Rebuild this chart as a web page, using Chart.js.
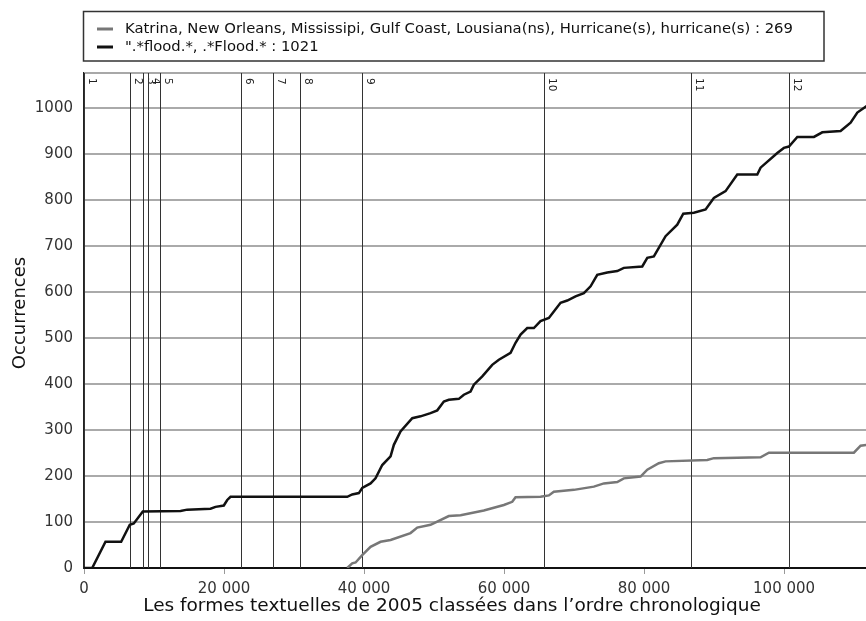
<!DOCTYPE html>
<html>
<head>
<meta charset="utf-8">
<script src="https://cdn.jsdelivr.net/npm/chart.js@4.4.1/dist/chart.umd.min.js"></script>
<style>
  body { margin: 0; background: #fff; }
  #wrap { position: relative; width: 866px; height: 621px; }
</style>
</head>
<body>
<div id="wrap"><canvas id="chart"></canvas></div>
<script>
// Séries (position dans le corpus, occurrences cumulées)
const floodLabel = '".*flood.*, .*Flood.* : 1021';
const floodX = [0, 1170, 3070, 5310, 6540, 7110, 8400, 13790, 14740, 18070, 18790, 19970, 20460, 20930,
  37600, 38310, 39260, 39740, 40930, 41640, 42600, 43790, 44260, 45210, 46890, 48070, 49500, 50460,
  51400, 52110, 53540, 54260, 55210, 55690, 56890, 58310, 59260, 60930, 61640, 62360, 63310, 64260,
  65210, 66400, 68070, 69030, 70210, 71400, 72360, 73310, 74740, 76170, 77110, 79740, 80460, 81400,
  83070, 84740, 85600, 87110, 88790, 89970, 91640, 93310, 96170, 96640, 99030, 99970, 100690, 101890,
  104260, 105460, 108070, 109500, 110460, 111790, 113500];
const floodY = [0, 0, 57, 57, 94, 97, 123, 124, 127, 129, 133, 136, 148, 155,
  155, 160, 163, 174, 184, 195, 224, 243, 268, 297, 326, 330, 337, 343,
  362, 366, 368, 377, 384, 399, 417, 442, 453, 468, 490, 508, 522, 522,
  537, 544, 577, 582, 591, 598, 613, 638, 643, 646, 653, 656, 675, 678,
  722, 747, 771, 773, 780, 805, 820, 856, 856, 871, 903, 914, 917, 938,
  938, 948, 951, 969, 991, 1005, 1021];

const katrinaLabel = 'Katrina, New Orleans, Mississipi, Gulf Coast, Lousiana(ns), Hurricane(s), hurricane(s) : 269';
const katrinaX = [37600, 38310, 38790, 39740, 40930, 42360, 43790, 46640, 47600, 49500, 52110, 53790,
  57110, 59970, 61170, 61640, 65210, 66400, 67110, 69970, 72830, 74260, 76170, 77110, 79500, 80460,
  82110, 83070, 89030, 89970, 96640, 97830, 109970, 110930, 111790, 113500];
const katrinaY = [0, 10, 12, 28, 46, 57, 61, 76, 88, 94, 113, 115,
  125, 137, 144, 154, 155, 158, 166, 170, 177, 184, 187, 195, 199, 214,
  228, 232, 235, 239, 241, 251, 251, 266, 268, 269];

// Frontières des parties (numérotées en haut du graphique)
const partX = [0, 6540, 8400, 9110, 10830, 22400, 26970, 30830, 39740, 65690, 86740, 100690];
const partLabels = ['1', '2', '3', '4', '5', '6', '7', '8', '9', '10', '11', '12'];

const xTicks = [0, 20000, 40000, 60000, 80000, 100000];
const yTicks = [0, 100, 200, 300, 400, 500, 600, 700, 800, 900, 1000];

const xMax = 111700;
const yMax = 1077;

const FONT = '"DejaVu Sans", sans-serif';

function toPoints(xs, ys) {
  return xs.map((x, i) => ({ x: x, y: ys[i] }));
}

function fmt(v) {
  return String(v).replace(/\B(?=(\d{3})+(?!\d))/g, ' ');
}

const decorations = {
  id: 'decorations',
  beforeDatasetsDraw(chart) {
    const ctx = chart.ctx;
    const area = chart.chartArea;
    const xs = chart.scales.x;
    ctx.save();
    // bord supérieur
    ctx.strokeStyle = '#a8a8a8';
    ctx.lineWidth = 2;
    ctx.beginPath();
    ctx.moveTo(area.left, area.top);
    ctx.lineTo(area.right, area.top);
    ctx.stroke();
    // séparateurs verticaux + numéros
    ctx.strokeStyle = '#333';
    ctx.lineWidth = 1;
    ctx.fillStyle = '#222';
    ctx.font = '10.5px ' + FONT;
    partX.forEach((v, i) => {
      const px = Math.round(xs.getPixelForValue(v)) + 0.5;
      ctx.beginPath();
      ctx.moveTo(px, area.top);
      ctx.lineTo(px, area.bottom);
      ctx.stroke();
      ctx.save();
      ctx.translate(px + 2, area.top + 5);
      ctx.rotate(Math.PI / 2);
      ctx.textAlign = 'left';
      ctx.textBaseline = 'bottom';
      ctx.fillText(partLabels[i], 0, 0);
      ctx.restore();
    });
    ctx.restore();
  },
  afterDraw(chart) {
    const ctx = chart.ctx;
    ctx.save();
    // légende encadrée
    ctx.fillStyle = '#fff';
    ctx.fillRect(83.5, 11.5, 740.5, 49.5);
    ctx.strokeStyle = '#333';
    ctx.lineWidth = 1.5;
    ctx.strokeRect(83.5, 11.5, 740.5, 49.5);
    const rows = [
      { label: katrinaLabel, color: '#777', y: 29 },
      { label: floodLabel, color: '#111', y: 47 }
    ];
    ctx.font = '14.8px ' + FONT;
    ctx.textBaseline = 'middle';
    rows.forEach(r => {
      ctx.strokeStyle = r.color;
      ctx.lineWidth = 3;
      ctx.beginPath();
      ctx.moveTo(97, r.y);
      ctx.lineTo(113, r.y);
      ctx.stroke();
      ctx.fillStyle = '#111';
      ctx.fillText(r.label, 125, r.y);
    });
    // titres des axes
    ctx.fillStyle = '#111';
    ctx.font = '18.5px ' + FONT;
    ctx.textAlign = 'center';
    ctx.textBaseline = 'middle';
    ctx.fillText('Les formes textuelles de 2005 classées dans l\u2019ordre chronologique', 452, 606);
    ctx.font = '18px ' + FONT;
    ctx.save();
    ctx.translate(20, 313);
    ctx.rotate(-Math.PI / 2);
    ctx.fillText('Occurrences', 0, 0);
    ctx.restore();
    ctx.restore();
  }
};

new Chart(document.getElementById('chart'), {
  type: 'line',
  data: {
    datasets: [
      {
        label: katrinaLabel,
        data: toPoints(katrinaX, katrinaY),
        borderColor: '#777',
        borderWidth: 2.5,
        pointRadius: 0,
        tension: 0
      },
      {
        label: floodLabel,
        data: toPoints(floodX, floodY),
        borderColor: '#111',
        borderWidth: 2.5,
        pointRadius: 0,
        tension: 0
      }
    ]
  },
  options: {
    responsive: true,
    maintainAspectRatio: false,
    animation: false,
    layout: { padding: { top: 73, left: 0, right: 0, bottom: 0 } },
    plugins: { legend: { display: false }, tooltip: { enabled: false } },
    scales: {
      x: {
        type: 'linear',
        min: 0,
        max: xMax,
        afterBuildTicks: s => { s.ticks = xTicks.map(v => ({ value: v })); },
        afterFit: s => { s.height = 53; s.paddingRight = 0; s.paddingLeft = 0; },
        border: { color: '#111', width: 2 },
        grid: { drawOnChartArea: false, drawTicks: true, tickLength: 6, color: '#999' },
        ticks: {
          autoSkip: false,
          maxRotation: 0,
          padding: 6,
          color: '#333',
          font: { family: FONT, size: 15 },
          callback: v => fmt(v)
        }
      },
      y: {
        min: 0,
        max: yMax,
        afterBuildTicks: s => { s.ticks = yTicks.map(v => ({ value: v })); },
        afterFit: s => { s.width = 84; },
        border: { color: '#222', width: 1.5 },
        grid: { color: '#aaa', lineWidth: 2, drawTicks: false },
        ticks: {
          padding: 11,
          color: '#333',
          font: { family: FONT, size: 15 },
          callback: v => String(v)
        }
      }
    }
  },
  plugins: [decorations]
});
</script>
</body>
</html>
